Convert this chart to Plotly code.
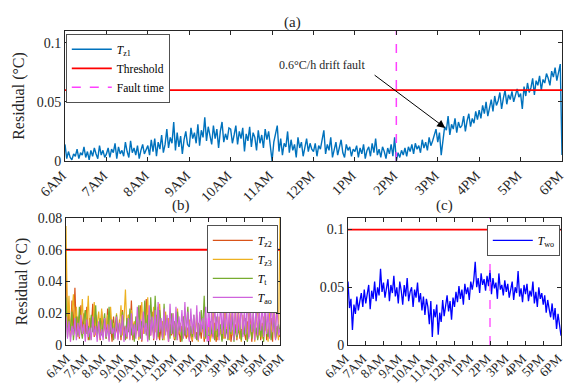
import plotly.graph_objects as go

# ---------------- data (residuals in 1e-3 degC) ----------------
tick_labels = ["6AM", "7AM", "8AM", "9AM", "10AM", "11AM", "12PM",
               "1PM", "2PM", "3PM", "4PM", "5PM", "6PM"]
tick_hours = list(range(6, 19))

# panel (a): 2.5-min samples
tz1_milli = [
    14, 2, 8, 3, 1, 6, 4, 10, 2, 7, 5, 12, 3, 8, 1, 9, 4, 11, 6, 2, 13, 5, 9, 3,
    6, 11, 3, 10, 7, 15, 2, 12, 6, 9, 4, 16, 8, 3, 17, 7, 11, 5, 13, 2, 9, 14, 6, 10,
    13, 5, 18, 8, 19, 4, 16, 10, 22, 7, 14, 27, 11, 20, 15, 33, 9, 24, 12, 21, 6, 18, 25, 14,
    12, 28, 19, 24, 15, 31, 13, 26, 20, 37, 17, 29, 22, 14, 30, 19, 27, 11, 25, 33, 16, 23, 18, 28,
    27, 15, 22, 30, 14, 25, 19, 28, 8, 23, 17, 29, 12, 24, 20, 9, 26, 15, 22, 11, 27, 18, 25, 13,
    0, 16, 22, 30, 8, 19, 5, 15, 12, 25, 7, 18, 9, 14, 3, 20, 11, 16, 4, 13, 19, 8, 15, 10,
    8, 15, 4, 13, 10, 18, 26, 6, 14, 9, 20, 3, 11, 16, 5, 12, 18, 7, 3, 14, 9, 12, 4, 10,
    8, 13, 3, 11, 6, 14, 2, 9, 12, 4, 15, 7, 19, 5, 10, 3, 12, 8, 2, 11, 6, 14, 4, 20,
    0, 7, 3, 9, 5, 11, 4, 12, 8, 14, 6, 15, 10, 13, 7, 18, 11, 16, 9, 20, 13, 17, 22, 27,
    16, 24, 5, 20, 29, 26, 38, 22, 31, 27, 36, 24, 33, 28, 30, 38, 25, 34, 40, 29, 36, 32, 42, 35,
    43, 36, 47, 40, 50, 38, 46, 52, 42, 55, 47, 51, 58, 44, 53, 60, 48, 56, 52, 59, 50, 57, 61, 54,
    57, 44, 63, 55, 66, 58, 62, 70, 56, 68, 64, 72, 60, 69, 66, 74, 70, 64, 76, 71, 79, 68, 75, 82,
    5,
]

# panels (b), (c): 5-min samples
tz2_milli = [
    53, 8, 22, 5, 28, 10, 36, 7, 18, 4, 25, 9,
    20, 6, 24, 3, 17, 11, 26, 5, 19, 8, 14, 3,
    21, 7, 15, 4, 23, 9, 13, 2, 18, 6, 12, 5,
    16, 3, 22, 8, 12, 4, 19, 6, 28, 3, 14, 7,
    18, 5, 25, 2, 13, 8, 29, 4, 17, 6, 21, 3,
    15, 7, 24, 3, 12, 5, 20, 8, 16, 2, 13, 6,
    10, 3, 14, 6, 9, 2, 12, 5, 8, 4, 11, 3,
    9, 2, 13, 5, 8, 3, 11, 4, 15, 2, 10, 6,
    12, 3, 8, 5, 14, 2, 10, 6, 9, 3, 16, 4,
    11, 5, 20, 2, 9, 6, 13, 3, 24, 4, 10, 7,
    8, 3, 15, 5, 22, 2, 12, 6, 9, 4, 18, 3,
    14, 6, 25, 3, 10, 5, 17, 2, 26, 4, 12, 7,
    5,
]

tz3_milli = [
    75, 12, 31, 6, 20, 32, 9, 24, 5, 19, 13, 29,
    7, 22, 14, 31, 4, 18, 10, 27, 6, 15, 21, 8,
    23, 5, 17, 11, 19, 3, 24, 9, 14, 7, 20, 4,
    12, 25, 6, 16, 35, 9, 19, 4, 22, 11, 15, 6,
    18, 3, 13, 27, 7, 22, 10, 30, 5, 16, 12, 24,
    8, 19, 4, 26, 11, 15, 3, 21, 9, 17, 6, 13,
    20, 4, 11, 23, 7, 14, 3, 18, 9, 12, 5, 16,
    10, 3, 15, 6, 19, 2, 13, 8, 11, 4, 17, 5,
    14, 2, 9, 22, 5, 12, 3, 18, 7, 10, 4, 25,
    8, 13, 3, 20, 6, 11, 24, 4, 15, 9, 2, 19,
    7, 14, 3, 21, 10, 5, 16, 2, 12, 26, 6, 11,
    4, 18, 9, 13, 2, 22, 7, 15, 29, 5, 10, 3,
    80,
]

tt_milli = [
    30, 5, 16, 9, 21, 3, 13, 18, 6, 24, 10, 4,
    15, 22, 7, 12, 3, 19, 8, 14, 25, 5, 11, 17,
    6, 13, 20, 4, 10, 24, 7, 16, 3, 12, 19, 8,
    14, 5, 21, 10, 3, 17, 8, 23, 6, 13, 2, 18,
    9, 25, 4, 15, 11, 28, 6, 19, 3, 30, 12, 7,
    31, 10, 5, 22, 14, 3, 26, 8, 17, 11, 4, 20,
    7, 15, 3, 21, 9, 13, 2, 18, 6, 11, 24, 4,
    12, 5, 19, 8, 3, 14, 6, 22, 10, 31, 4, 9,
    2, 15, 7, 11, 3, 18, 5, 9, 13, 2, 16, 6,
    10, 3, 14, 7, 19, 2, 11, 5, 8, 15, 3, 12,
    6, 17, 2, 9, 13, 4, 20, 7, 11, 3, 15, 5,
    12, 2, 18, 8, 5, 14, 3, 10, 16, 4, 9, 13,
    8,
]

tao_milli = [
    18, 4, 15, 2, 12, 6, 17, 3, 14, 5, 19, 7,
    13, 2, 16, 5, 11, 3, 18, 6, 12, 2, 15, 4,
    10, 3, 17, 5, 13, 2, 16, 7, 11, 4, 18, 3,
    14, 6, 19, 2, 12, 5, 17, 3, 20, 6, 13, 4,
    24, 5, 16, 3, 21, 7, 14, 2, 25, 6, 18, 4,
    22, 3, 27, 8, 17, 4, 23, 6, 19, 2, 26, 7,
    20, 5, 24, 3, 18, 8, 22, 4, 27, 6, 21, 2,
    23, 7, 19, 4, 25, 3, 21, 8, 17, 5, 24, 2,
    28, 6, 22, 4, 26, 9, 20, 3, 29, 7, 23, 5,
    25, 4, 21, 8, 27, 3, 24, 6, 20, 9, 28, 5,
    22, 7, 32, 4, 25, 8, 21, 3, 27, 6, 23, 9,
    26, 5, 29, 7, 22, 4, 30, 8, 24, 3, 27, 6,
    10,
]

two_milli = [
    55, 32, 40, 13, 35, 27, 42, 30, 38, 45, 33, 48,
    36, 44, 52, 31, 47, 40, 55, 38, 50, 43, 66, 46,
    54, 41, 49, 57, 38, 52, 45, 60, 42, 50, 36, 55,
    47, 35, 52, 42, 58, 38, 46, 50, 33, 48, 41, 54,
    37, 45, 30, 42, 26, 40, 33, 18, 38, 7, 31, 24,
    35, 9, 28, 20, 39, 25, 34, 43, 29, 38, 22, 41,
    33, 46, 37, 51, 40, 48, 35, 53, 44, 50, 39, 55,
    48, 56, 72, 50, 58, 45, 62, 52, 57, 47, 60, 51,
    65, 44, 58, 49, 54, 40, 62, 48, 52, 43, 56, 46,
    53, 41, 48, 55, 39, 50, 45, 64, 42, 49, 37, 52,
    44, 53, 38, 47, 42, 55, 36, 46, 33, 50, 40, 45,
    35, 43, 28, 39, 31, 24, 36, 22, 32, 14, 27, 15,
    8,
]

threshold_a = 0.06
threshold_b = 0.06
threshold_c = 0.1
fault_hour = 14

hours_a = [6 + i / 24 for i in range(len(tz1_milli))]
hours_bc = [6 + i / 12 for i in range(len(tz2_milli))]


def scale(v):
    return [x / 1000 for x in v]


BLUE = "#0072BD"
ORANGE = "#D95319"
YELLOW = "#EDB120"
GREEN = "#77AC30"
PINK = "#CF63DC"
MAG = "#FF40FF"
FONT = "Liberation Serif"

fig = go.Figure()

# ---------------- panel (a) ----------------
fig.add_trace(go.Scatter(x=hours_a, y=scale(tz1_milli), mode="lines",
                         line=dict(color=BLUE, width=1.4),
                         name="<i>T</i><sub>z1</sub>", legend="legend",
                         xaxis="x", yaxis="y"))
fig.add_trace(go.Scatter(x=[6, 18], y=[threshold_a, threshold_a], mode="lines",
                         line=dict(color="#FF0000", width=1.8),
                         name="Threshold", legend="legend", xaxis="x", yaxis="y"))
fig.add_trace(go.Scatter(x=[fault_hour, fault_hour], y=[0, 0.11], mode="lines",
                         line=dict(color=MAG, width=1.5, dash="dash"),
                         name="Fault time", legend="legend", xaxis="x", yaxis="y"))

# ---------------- panel (b) ----------------
for vals, col, nm in [(tz2_milli, ORANGE, "<i>T</i><sub>z2</sub>"),
                      (tz3_milli, YELLOW, "<i>T</i><sub>z3</sub>"),
                      (tt_milli, GREEN, "<i>T</i><sub>t</sub>"),
                      (tao_milli, PINK, "<i>T</i><sub>ao</sub>")]:
    fig.add_trace(go.Scatter(x=hours_bc, y=scale(vals), mode="lines",
                             line=dict(color=col, width=1.2), name=nm,
                             legend="legend2", xaxis="x2", yaxis="y2"))
fig.add_trace(go.Scatter(x=[6, 18], y=[threshold_b, threshold_b], mode="lines",
                         line=dict(color="#FF0000", width=1.8), showlegend=False,
                         xaxis="x2", yaxis="y2"))
fig.add_trace(go.Scatter(x=[fault_hour, fault_hour], y=[0, 0.08], mode="lines",
                         line=dict(color=MAG, width=1.3, dash="dash"), showlegend=False,
                         xaxis="x2", yaxis="y2"))

# ---------------- panel (c) ----------------
fig.add_trace(go.Scatter(x=hours_bc, y=scale(two_milli), mode="lines",
                         line=dict(color="#0000FF", width=1.3),
                         name="<i>T</i><sub>wo</sub>", legend="legend3",
                         xaxis="x3", yaxis="y3"))
fig.add_trace(go.Scatter(x=[6, 18], y=[threshold_c, threshold_c], mode="lines",
                         line=dict(color="#FF0000", width=1.8), showlegend=False,
                         xaxis="x3", yaxis="y3"))
fig.add_trace(go.Scatter(x=[fault_hour, fault_hour], y=[0, 0.11], mode="lines",
                         line=dict(color=MAG, width=1.3, dash="dash"), showlegend=False,
                         xaxis="x3", yaxis="y3"))

W, H = 565, 388


def px_x(a, b):
    return [a / W, b / W]


def px_y(top, bottom):
    return [1 - bottom / H, 1 - top / H]


axis_common = dict(showline=True, mirror="ticks", linecolor="#262626", linewidth=0.8,
                   ticks="inside", ticklen=4, tickcolor="#262626", showgrid=False,
                   zeroline=False, automargin=False, ticklabeloverflow="allow",
                   tickfont=dict(family=FONT, size=14, color="#262626"))

xcommon = dict(axis_common, range=[6, 18], tickvals=tick_hours, ticktext=tick_labels,
               tickangle=-45)

legend_common = dict(xanchor="left", yanchor="top", bgcolor="white",
                     bordercolor="#262626", borderwidth=0.8,
                     font=dict(family=FONT, size=11.5, color="#000000"), itemwidth=40,
                     tracegroupgap=0)

fig.update_layout(
    width=W, height=H, margin=dict(l=0, r=0, t=0, b=0, autoexpand=False),
    paper_bgcolor="white", plot_bgcolor="white",
    font=dict(family=FONT, size=13, color="#262626"),
    xaxis=dict(xcommon, domain=px_x(65, 562), anchor="y", ticklabelshift=-3),
    yaxis=dict(axis_common, domain=px_y(31, 161), range=[0, 0.11], anchor="x",
               tickvals=[0, 0.05, 0.1], ticktext=["0", "0.05", "0.1"],
               title=dict(text="Residual (°C)", font=dict(family=FONT, size=16), standoff=8)),
    xaxis2=dict(xcommon, domain=px_x(66, 280), anchor="y2",
                tickfont=dict(family=FONT, size=13, color="#262626")),
    yaxis2=dict(axis_common, domain=px_y(218, 345), range=[0, 0.08], anchor="x2",
                tickvals=[0, 0.02, 0.04, 0.06, 0.08],
                ticktext=["0", "0.02", "0.04", "0.06", "0.08"],
                title=dict(text="Residual (°C)", font=dict(family=FONT, size=16), standoff=6)),
    xaxis3=dict(xcommon, domain=px_x(348, 561), anchor="y3", ticklabelshift=-3,
                tickfont=dict(family=FONT, size=13, color="#262626")),
    yaxis3=dict(axis_common, domain=px_y(218, 345), range=[0, 0.11], anchor="x3",
                tickvals=[0, 0.05, 0.1], ticktext=["0", "0.05", "0.1"]),
    legend=dict(legend_common, x=66 / W, y=1 - 34 / H),
    legend2=dict(legend_common, x=207 / W, y=1 - 225 / H),
    legend3=dict(legend_common, x=487 / W, y=1 - 225 / H),
    showlegend=True,
)

annotations = [
    dict(text="(a)", x=292 / W, y=1 - 12 / H, xref="paper", yref="paper",
         showarrow=False, font=dict(family=FONT, size=15)),
    dict(text="(b)", x=170 / W, y=1 - 205 / H, xref="paper", yref="paper",
         showarrow=False, font=dict(family=FONT, size=15)),
    dict(text="(c)", x=455 / W, y=1 - 205 / H, xref="paper", yref="paper",
         showarrow=False, font=dict(family=FONT, size=15)),
    dict(text="0.6°C/h drift fault", x=12.2, y=0.081, xref="x", yref="y",
         showarrow=False, font=dict(family=FONT, size=12, color="#262626")),
    dict(text="", x=15.18, y=0.028, xref="x", yref="y",
         ax=13.44, ay=0.0736, axref="x", ayref="y",
         showarrow=True, arrowhead=2, arrowsize=1.6, arrowwidth=1, arrowcolor="black"),
]
fig.update_layout(annotations=annotations)

fig.write_html("out.html")
